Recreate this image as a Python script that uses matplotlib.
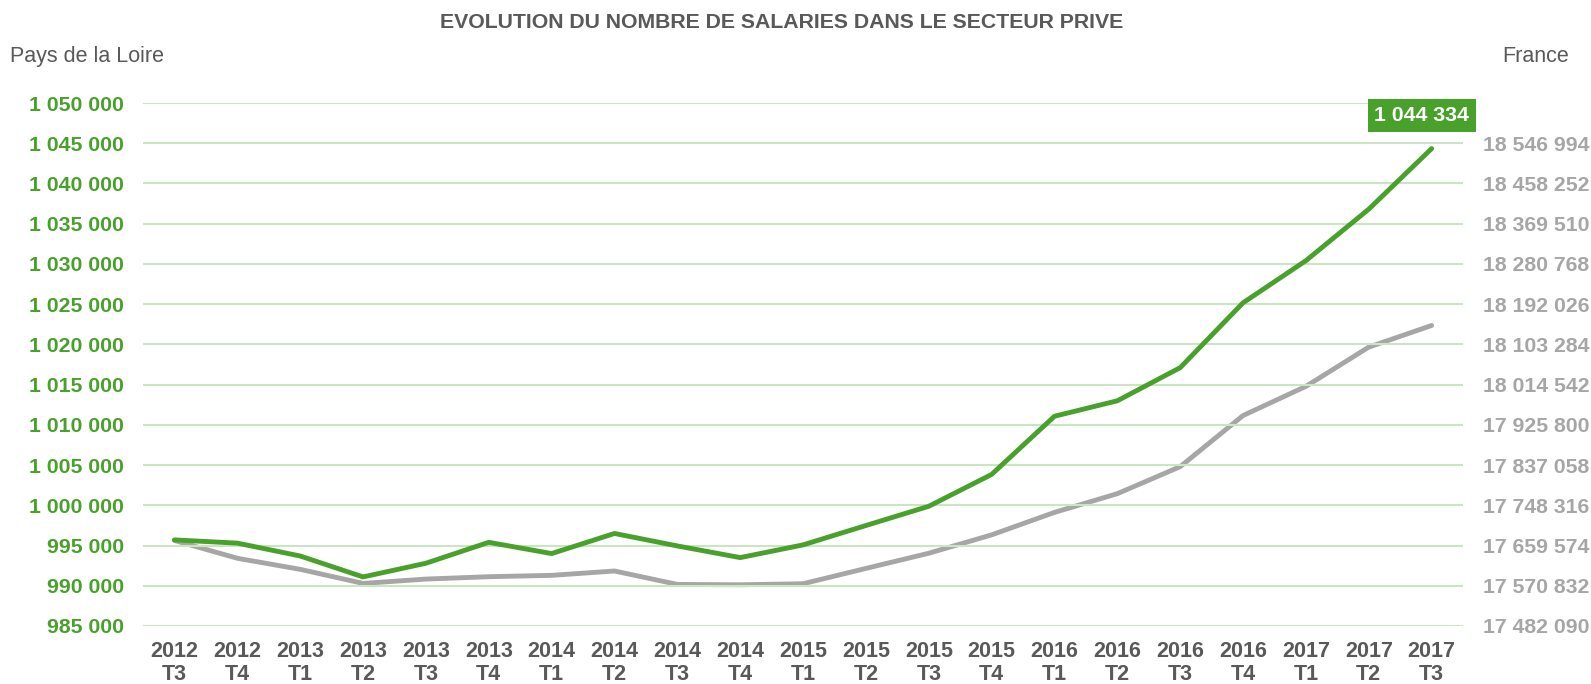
import numpy as np
import matplotlib.pyplot as plt

plt.rcParams['font.family'] = ['Liberation Sans', 'DejaVu Sans']

# Data
quarters = ['2012\nT3', '2012\nT4', '2013\nT1', '2013\nT2', '2013\nT3', '2013\nT4',
            '2014\nT1', '2014\nT2', '2014\nT3', '2014\nT4', '2015\nT1', '2015\nT2',
            '2015\nT3', '2015\nT4', '2016\nT1', '2016\nT2', '2016\nT3', '2016\nT4',
            '2017\nT1', '2017\nT2', '2017\nT3']

pays_loire = [995700, 995300, 993700, 991100, 992800, 995400, 994000, 996500,
              994950, 993500, 995080, 997490, 999880, 1003840, 1011070, 1012990,
              1017110, 1025170, 1030410, 1036810, 1044334]

france = [17670700, 17631500, 17607100, 17576000, 17585600, 17590800, 17593800,
          17603400, 17573800, 17573000, 17575300, 17609100, 17642600, 17683100,
          17732700, 17774000, 17833600, 17946400, 18010700, 18097300, 18145000]

left_ticks = [985000, 990000, 995000, 1000000, 1005000, 1010000, 1015000,
              1020000, 1025000, 1030000, 1035000, 1040000, 1045000, 1050000]
right_ticks = [17482090, 17570832, 17659574, 17748316, 17837058, 17925800,
               18014542, 18103284, 18192026, 18280768, 18369510, 18458252, 18546994]

green = '#48A12A'
grey_line = '#A6A6A6'
dark = '#595959'
grid_col = '#C9E5C1'


def fmt(v):
    return '{:,}'.format(v).replace(',', ' ')


fig = plt.figure(figsize=(15.91, 6.84), dpi=100)
ax = fig.add_axes([0.0899, 0.0848, 0.8297, 0.7646])
ax2 = ax.twinx()

x = np.arange(len(quarters))

# left axis (Pays de la Loire)
ax.set_xlim(-0.5, len(quarters) - 0.5)
ax.set_ylim(985000, 1050000)
ax.set_yticks(left_ticks)
ax.set_yticklabels([fmt(v) for v in left_ticks])
ax.grid(axis='y', color=grid_col, linewidth=1.5)
ax.set_axisbelow(True)
ax.set_xticks(x)
ax.set_xticklabels(quarters, fontsize=15.5, fontweight='bold', color=dark, linespacing=1.12)
ax.tick_params(axis='y', length=0, pad=13.5, labelsize=15.3, labelcolor=green)
ax.tick_params(axis='x', length=0, pad=11)
for lab in ax.get_yticklabels():
    lab.set_fontweight('bold')

# right axis (France), same scale as the left one
step = right_ticks[1] - right_ticks[0]
ax2.set_ylim(right_ticks[0], right_ticks[0] + 13 * step)
ax2.set_yticks(right_ticks)
ax2.set_yticklabels([fmt(v) for v in right_ticks])
ax2.tick_params(axis='y', length=0, pad=14, labelsize=15.3, labelcolor=grey_line)
for lab in ax2.get_yticklabels():
    lab.set_fontweight('bold')

for a in (ax, ax2):
    for s in a.spines.values():
        s.set_visible(False)

ax2.plot(x, france, color=grey_line, linewidth=3.5, solid_capstyle='round', zorder=3)
ax.plot(x, pays_loire, color=green, linewidth=3.5, solid_capstyle='round', zorder=4)
ax.set_zorder(ax2.get_zorder() + 1)
ax.patch.set_visible(False)

# value label on the last point
ax.annotate(fmt(pays_loire[-1]), (x[-1], pays_loire[-1]), xytext=(-7, 24),
            textcoords='offset points', ha='center', va='center',
            fontsize=15.3, fontweight='bold', color='white',
            bbox=dict(boxstyle='square,pad=0.32', fc=green, ec='none'))

fig.text(0.491, 0.967, 'EVOLUTION DU NOMBRE DE SALARIES DANS LE SECTEUR PRIVE',
         ha='center', va='center', fontsize=15.3, fontweight='bold', color=dark)
fig.text(0.0065, 0.918, 'Pays de la Loire', ha='left', va='center', fontsize=15.5, color=dark)
fig.text(0.986, 0.918, 'France', ha='right', va='center', fontsize=15.5, color=dark)

fig.savefig('out.png', dpi=100)
